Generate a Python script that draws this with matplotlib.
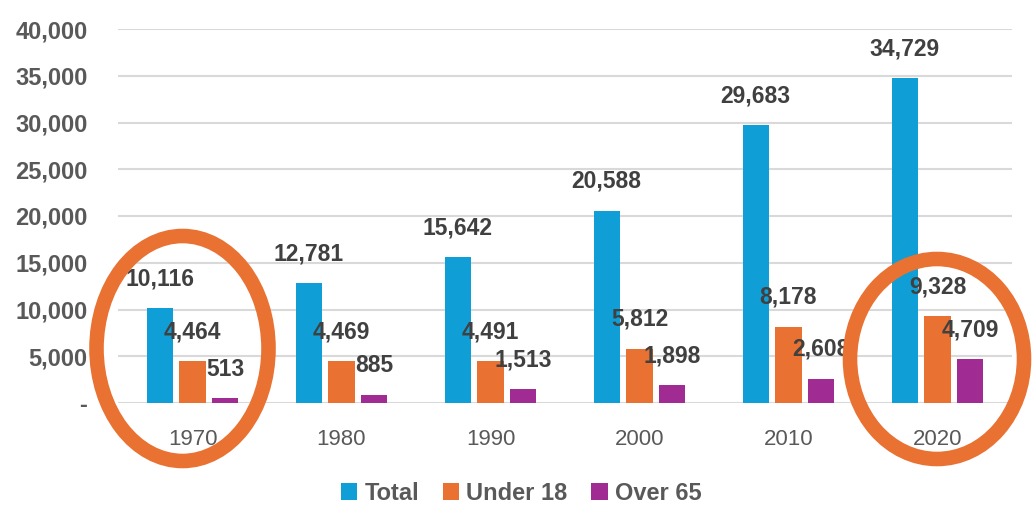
import matplotlib
matplotlib.use("Agg")
import matplotlib.pyplot as plt
from matplotlib.patches import Ellipse
from matplotlib.ticker import FuncFormatter
import numpy as np

years = ["1970", "1980", "1990", "2000", "2010", "2020"]
total = [10116, 12781, 15642, 20588, 29683, 34729]
under18 = [4464, 4469, 4491, 5812, 8178, 9328]
over65 = [513, 885, 1513, 1898, 2608, 4709]
series_names = ["Total", "Under 18", "Over 65"]
colors = ["#0F9ED5", "#E97132", "#A02B93"]
yticks = [0, 5000, 10000, 15000, 20000, 25000, 30000, 35000, 40000]

plt.rcParams['font.family'] = ['Liberation Sans', 'DejaVu Sans']

W, H = 1035, 516
fig = plt.figure(figsize=(W / 100, H / 100), dpi=100)
ax = fig.add_axes([118 / W, (H - 403) / H, 894 / W, 374 / H])

x = np.arange(len(years))
bw = 0.175
offs = [-0.22, 0.0, 0.22]
for vals, off, c, name in zip([total, under18, over65], offs, colors, series_names):
    ax.bar(x + off, vals, width=bw, color=c, label=name, zorder=3)
    for xi, v in zip(x + off, vals):
        ax.annotate(f"{v:,}", (xi, v), xytext=(0, 21), textcoords="offset points",
                    ha="center", va="center", fontsize=16.5, fontweight="bold",
                    color="#404040", zorder=4)

ax.set_xlim(-0.5, len(years) - 0.5)
ax.set_ylim(0, 40000)
ax.set_yticks(yticks)
ax.yaxis.set_major_formatter(FuncFormatter(lambda v, p: "-" if v == 0 else f"{int(v):,}"))
ax.set_xticks(x)
ax.set_xticklabels(years)
ax.tick_params(axis="y", length=0, pad=22, labelsize=17, labelcolor="#595959")
ax.tick_params(axis="x", length=0, pad=19, labelsize=16, labelcolor="#595959")
for lbl in ax.get_yticklabels():
    lbl.set_fontweight("bold")
ax.grid(axis="y", color="#D9D9D9", linewidth=1.5, zorder=0)
for s in ax.spines.values():
    s.set_visible(False)

leg = fig.legend(loc="center", bbox_to_anchor=(521 / W, (H - 493) / H), ncol=3,
                 frameon=False, handlelength=0.7, handleheight=0.7,
                 handletextpad=0.3, columnspacing=1.0,
                 prop={"size": 17, "weight": "bold"})
for t in leg.get_texts():
    t.set_color("#595959")

# Highlight ellipses (figure pixel coordinates)
def fig_px_ellipse(cx, cy, w, h):
    e = Ellipse((cx / W, (H - cy) / H), w / W, h / H, transform=fig.transFigure,
                fill=False, edgecolor="#E97132", linewidth=10.5, zorder=10)
    fig.patches.append(e)

fig_px_ellipse(182.5, 348.5, 172, 225)
fig_px_ellipse(937, 359, 174, 200)

fig.savefig("out.png", dpi=100)
